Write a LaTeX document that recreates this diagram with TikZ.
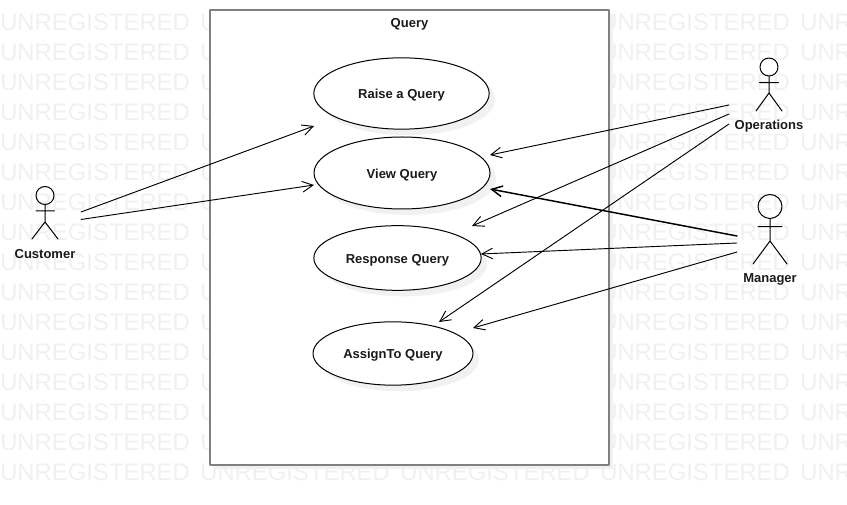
\documentclass[tikz,border=0pt]{standalone}
\usepackage{fontspec}
\setmainfont{Liberation Sans}
\usetikzlibrary{arrows.meta,shapes.geometric,shadows}
\definecolor{mark}{HTML}{F0F0F0}
\definecolor{frame}{HTML}{808080}
\definecolor{shade}{HTML}{F1F1F1}
\definecolor{ink}{HTML}{1A1A1A}
\tikzset{
    usecase/.style={draw,ellipse,fill=white,inner sep=0pt,line width=0.75pt,text=ink,text height=10pt,text depth=2pt,
        font=\fontsize{9.75}{11}\selectfont\bfseries,
        drop shadow={shadow xshift=4.5pt,shadow yshift=-4.5pt,fill=shade,opacity=1}},
    actorlabel/.style={inner sep=0pt,text=ink,font=\fontsize{9.75}{11}\selectfont\bfseries},
    watermark/.style={anchor=west,inner sep=0pt,text=mark,font=\fontsize{17.9}{20}\selectfont},
    assoc/.style={-{Straight Barb[length=8pt,width=8pt]},line width=0.7pt},
}
\begin{document}
\begin{tikzpicture}[x=0.75pt,y=-0.75pt,line join=round,line cap=round]
    \useasboundingbox (0,0) rectangle (847,505);
    \clip (0,0) rectangle (847,505);
    % watermark
    \foreach \r in {0,...,14}{
        \foreach \c in {0,3,4}
            \node[watermark] at (200*\c,22+30*\r) {UNREGISTERED};
        \node[watermark] at (200,22+30*\r) {U};
    }
    \foreach \c in {0,...,4}
        \node[watermark] at (200*\c,472) {UNREGISTERED};

    % system
    \node[draw=frame,fill=white,line width=1.5pt,minimum width=299.25pt,minimum height=341.25pt,inner sep=0pt,
        drop shadow={shadow xshift=3pt,shadow yshift=-3pt,fill=shade,opacity=1}] (system) at (409.5,237.5) {};
    \node[actorlabel] (title) at (409.5,24) {Query};

    % use cases
    \node[usecase,minimum width=131.5pt,minimum height=53.5pt] (raise) at (401.5,93.5) {Raise a Query};
    \node[usecase,minimum width=132pt,minimum height=54pt] (view) at (402,173) {View Query};
    \node[usecase,minimum width=125.5pt,minimum height=48.5pt] (response) at (397.5,258) {Response Query};
    \node[usecase,minimum width=120pt,minimum height=47.5pt] (assign) at (393,353.5) {AssignTo Query};

    % actors
    \node[draw,circle,inner sep=0pt,minimum size=13.5pt,line width=0.75pt] (customer) at (45,195.5) {};
    \draw[line width=0.75pt] (customer.south) -- (45,222) -- (32,239) (45,222) -- (58,239) (36,211) -- (54.5,211);
    \node[actorlabel] (customerlabel) at (45,254) {Customer};

    \node[draw,circle,inner sep=0pt,minimum size=13.5pt,line width=0.75pt] (operations) at (769,67) {};
    \draw[line width=0.75pt] (operations.south) -- (769,93) -- (756,111) (769,93) -- (782,111) (759.5,82.7) -- (778.5,82.7);
    \node[actorlabel] (operationslabel) at (769,126) {Operations};

    \node[draw,circle,inner sep=0pt,minimum size=18pt,line width=0.75pt] (manager) at (770,206.5) {};
    \draw[line width=0.75pt] (manager.south) -- (770,241) -- (753,264) (770,241) -- (787,264) (758,226.7) -- (782,226.7);
    \node[actorlabel] (managerlabel) at (770,279) {Manager};

    % free ends of the associations
    \coordinate (custA) at (81,212);
    \coordinate (custB) at (81,219.5);
    \coordinate (opsA) at (729,105);
    \coordinate (opsB) at (729,114);
    \coordinate (opsC) at (729,124);
    \coordinate (mgrA) at (737,236);
    \coordinate (mgrB) at (737,243);
    \coordinate (mgrC) at (737,252);
    \coordinate (raiseW) at (314,126);
    \coordinate (viewW) at (314,185);
    \coordinate (viewE) at (490,155);
    \coordinate (viewS) at (490,189);
    \coordinate (responseN) at (472,226);
    \coordinate (responseE) at (481,254);
    \coordinate (assignN) at (439,322);
    \coordinate (assignE) at (473,328);

    \draw[assoc] (custA) -- (raiseW);
    \draw[assoc] (custB) -- (viewW);
    \draw[assoc] (opsA) -- (viewE);
    \draw[assoc] (opsB) -- (responseN);
    \draw[assoc] (opsC) -- (assignN);
    \draw[assoc,line width=1.1pt] (mgrA) -- (viewS);
    \draw[assoc] (mgrB) -- (responseE);
    \draw[assoc] (mgrC) -- (assignE);
\end{tikzpicture}
\end{document}
